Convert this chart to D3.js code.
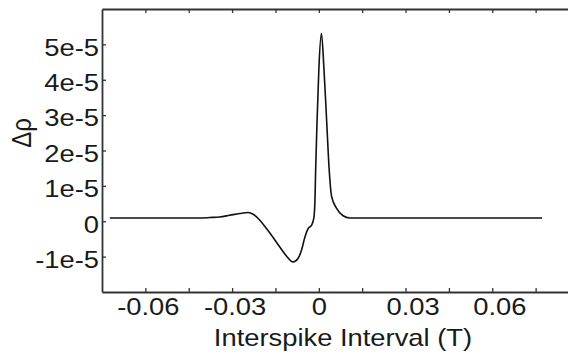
<!DOCTYPE html>
<html>
<head>
<meta charset="utf-8">
<script src="https://cdn.jsdelivr.net/npm/d3@7"></script>
<style>
  body { margin: 0; background: #fff; }
  text { font-family: "Liberation Sans", Arial, sans-serif; fill: #1a1a1a; }
</style>
</head>
<body>
<svg id="chart" width="568" height="354"></svg>
<script>
//// values
var isi = [-0.0723, -0.0585, -0.0412, -0.0377, -0.0343, -0.0308, -0.0273, -0.0245, -0.0227, -0.0204,
           -0.0181, -0.0158, -0.0135, -0.0112, -0.0089, -0.0072, -0.0060, -0.0048, -0.0037, -0.0025,
           -0.0017, -0.0013, -0.0011, -0.0006, 0.0, 0.0009, 0.0018, 0.0027, 0.0036, 0.0044,
           0.0061, 0.0084, 0.0107, 0.028, 0.0772]
var drho = [0.093e-5, 0.093e-5, 0.093e-5, 0.105e-5, 0.12e-5, 0.17e-5, 0.22e-5, 0.246e-5, 0.198e-5, 0.028e-5,
            -0.206e-5, -0.46e-5, -0.727e-5, -0.98e-5, -1.15e-5, -1.054e-5, -0.82e-5, -0.444e-5, -0.206e-5, -0.113e-5,
            0.1e-5, 0.7e-5, 1.44e-5, 2.855e-5, 4.27e-5, 5.31e-5, 4.27e-5, 2.855e-5, 1.44e-5, 0.71e-5,
            0.37e-5, 0.155e-5, 0.093e-5, 0.093e-5, 0.093e-5]

var xTicks = [-0.06, -0.045, -0.03, -0.015, 0, 0.015, 0.03, 0.045, 0.06, 0.075]
var xLabelled = [-0.06, -0.03, 0, 0.03, 0.06]
var xLabels = ["-0.06", "-0.03", "0", "0.03", "0.06"]
var yTicks = [-1e-5, 0, 1e-5, 2e-5, 3e-5, 4e-5, 5e-5]
var yLabels = ["-1e-5", "0", "1e-5", "2e-5", "3e-5", "4e-5", "5e-5"]

var svg = d3.select("#chart")
var stretchX = 1.14     // the picture is a bit wider than it is tall

/// plot box (right edge runs off the page)
var boxLeft = 102, boxRight = 579, boxTop = 9, boxBottom = 292

var scaleX = d3.scaleLinear()
  .domain([-0.075, 0.09])
  .range([boxLeft, boxRight])

var scaleY = d3.scaleLinear()
  .domain([-2e-5, 6e-5])
  .range([boxBottom, boxTop])

function widen(sel) {    // stretch text sideways about its anchor, like the picture
  sel.each(function() {
    var t = d3.select(this)
    var x = +t.attr("x") || 0
    t.attr("x", x / stretchX).attr("transform", "scale(" + stretchX + ",1)")
  })
}

function styleAxis(g) {
  g.attr("font-size", null).attr("font-family", null)
  g.select(".domain").attr("stroke", "#333").attr("stroke-width", 1.8)
  g.selectAll(".tick line").attr("stroke", "#333").attr("stroke-width", 1.3)
  g.selectAll(".tick text").style("font-size", "24px").attr("fill", "#1a1a1a")
}

//// bottom axis
var gx = svg.append("g")
  .attr("transform", "translate(0," + boxBottom + ")")
  .call(d3.axisBottom(scaleX)
    .tickValues(xTicks)
    .tickSizeInner(-4)
    .tickSizeOuter(0)
    .tickPadding(6)
    .tickFormat(function(d) {
      var i = xLabelled.findIndex(function(v) { return Math.abs(v - d) < 1e-9 })
      return i < 0 ? "" : xLabels[i]
    }))
gx.call(styleAxis)
gx.selectAll(".tick text")
  .attr("x", function(d) { return d < 0 ? 2.5 : (d > 0 ? 7 : 0) })   // labels sit a little right of their ticks
  .call(widen)

//// top axis, ticks only
var gt = svg.append("g")
  .attr("transform", "translate(0," + boxTop + ")")
  .call(d3.axisTop(scaleX)
    .tickValues(xTicks)
    .tickSizeInner(-4)
    .tickSizeOuter(0)
    .tickFormat(""))
gt.call(styleAxis)

//// left axis
var gy = svg.append("g")
  .attr("transform", "translate(" + boxLeft + ",0)")
  .call(d3.axisLeft(scaleY)
    .tickValues(yTicks)
    .tickSizeInner(-4)
    .tickSizeOuter(0)
    .tickPadding(3)
    .tickFormat(function(d, i) { return yLabels[i] }))
gy.call(styleAxis)
gy.selectAll(".tick text").attr("dy", "0.45em").call(widen)

//// curve
var line = d3.line()
  .curve(d3.curveMonotoneX)
  .x(function(d, i) { return scaleX(isi[i]) })
  .y(function(d, i) { return scaleY(drho[i]) })

svg.append("path")
  .attr("d", line(isi))
  .attr("fill", "none")
  .attr("stroke", "#111")
  .attr("stroke-width", 1.6)
  .attr("stroke-linejoin", "round")

//// axis titles
svg.append("text")
  .attr("x", 343)
  .attr("y", 346.5)
  .attr("text-anchor", "middle")
  .style("font-size", "24px")
  .text("Interspike Interval (T)")
  .call(widen)

svg.append("text")
  .attr("transform", "translate(31,133) scale(" + stretchX + ",1) rotate(-90)")
  .attr("text-anchor", "middle")
  .style("font-size", "24px")
  .text("Δρ")
</script>
</body>
</html>
